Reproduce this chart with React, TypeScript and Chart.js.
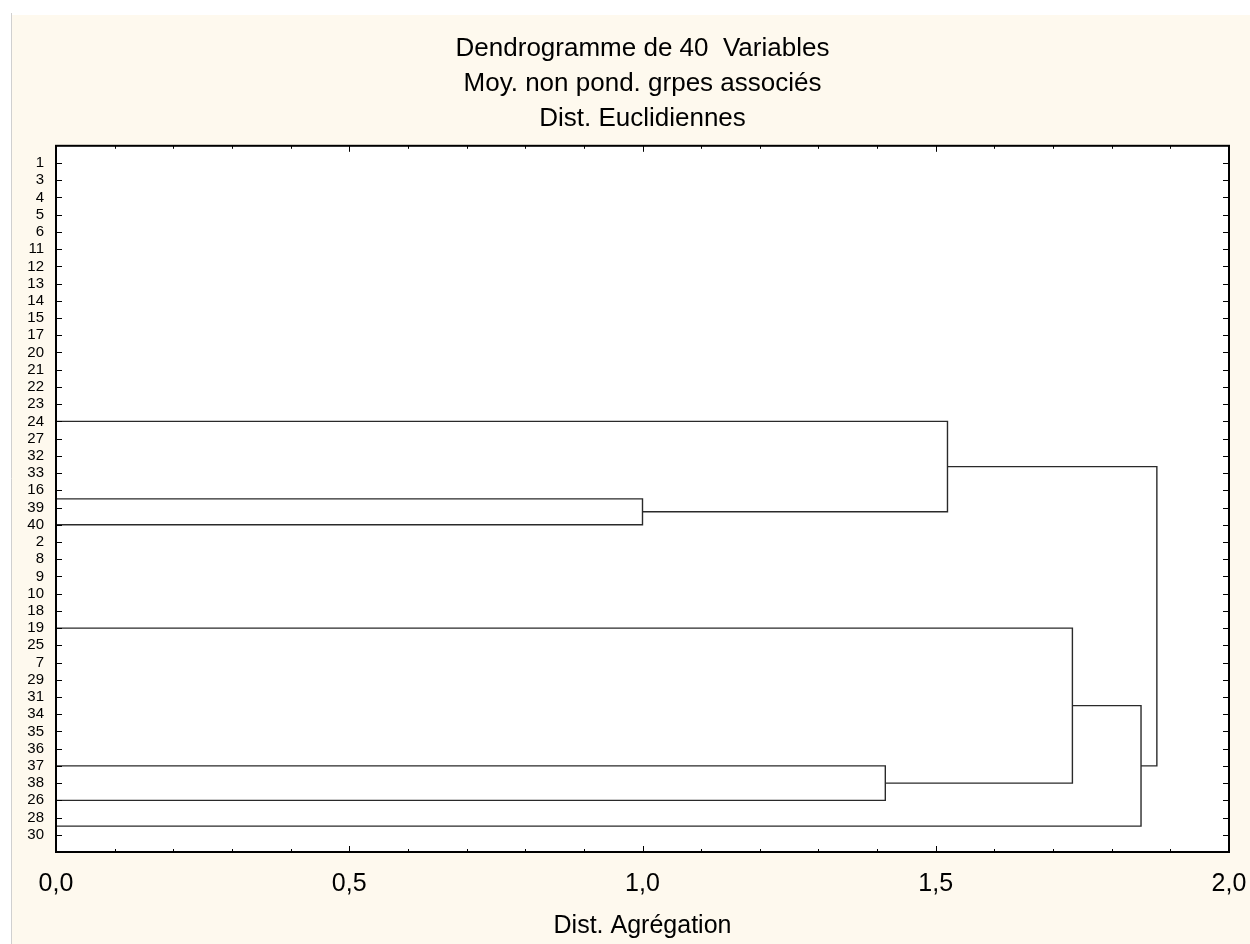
import React, { useEffect, useRef } from 'react';
import { Chart, registerables } from 'chart.js';

Chart.register(...registerables);

const FONT = "Arial, 'Liberation Sans', sans-serif";
const CREAM = '#FEF9EE';

const titleLines = ['Dendrogramme de 40  Variables', 'Moy. non pond. grpes associés', 'Dist. Euclidiennes'];
const xAxisTitle = 'Dist. Agrégation';

// leaf order, top to bottom
const variables = [
  '1', '3', '4', '5', '6', '11', '12', '13', '14', '15',
  '17', '20', '21', '22', '23', '24', '27', '32', '33', '16',
  '39', '40', '2', '8', '9', '10', '18', '19', '25', '7',
  '29', '31', '34', '35', '36', '37', '38', '26', '28', '30',
];

const xTickValues = [0, 0.5, 1.0, 1.5, 2.0];
const xTickLabels = ['0,0', '0,5', '1,0', '1,5', '2,0'];
const xMinorStep = 0.1;

// groups already fused at distance 0 (first and last member of each group)
const groupFirst = ['24', '16', '40', '19', '37', '26', '28'];
const groupLast = ['24', '39', '40', '19', '37', '26', '30'];

// successive fusions: node ids (0-6 = groups, 7+ = fusions in order)
const fuseLeft = [1, 0, 4, 3, 10, 8];
const fuseRight = [2, 7, 5, 9, 6, 11];
const fuseDist = [1.0, 1.52, 1.414, 1.733, 1.85, 1.877];

function buildSegments() {
  const rowOf = (v: string) => variables.indexOf(v) + 1;
  const nodeY = groupFirst.map((f, i) => (rowOf(f) + rowOf(groupLast[i])) / 2);
  const nodeH = groupFirst.map(() => 0);
  const segs: { x: number; y: number }[][] = [];
  fuseLeft.forEach((l, i) => {
    const r = fuseRight[i];
    const d = fuseDist[i];
    segs.push([
      { x: nodeH[l], y: nodeY[l] },
      { x: d, y: nodeY[l] },
      { x: d, y: nodeY[r] },
      { x: nodeH[r], y: nodeY[r] },
    ]);
    nodeY.push((nodeY[l] + nodeY[r]) / 2);
    nodeH.push(d);
  });
  return segs;
}

const framePlugin = {
  id: 'dendroFrame',
  beforeDraw(chart: any) {
    const { ctx, width, height, chartArea: a } = chart;
    ctx.save();
    ctx.fillStyle = '#ffffff';
    ctx.fillRect(0, 0, width, height);
    ctx.fillStyle = CREAM;
    ctx.fillRect(12, 15, width - 12, height - 15);
    ctx.strokeStyle = '#d0d0d0';
    ctx.lineWidth = 1;
    ctx.beginPath();
    ctx.moveTo(11.5, 13);
    ctx.lineTo(11.5, height);
    ctx.stroke();
    ctx.fillStyle = '#ffffff';
    ctx.fillRect(a.left, a.top, a.right - a.left, a.bottom - a.top);
    ctx.restore();
  },
  afterDatasetsDraw(chart: any) {
    const { ctx, chartArea: a } = chart;
    const xs = chart.scales.x;
    const ys = chart.scales.y;
    ctx.save();
    ctx.strokeStyle = '#000';
    ctx.lineWidth = 1;
    ctx.beginPath();
    for (let i = 1; i <= variables.length; i++) {
      const py = Math.round(ys.getPixelForValue(i)) + 0.5;
      ctx.moveTo(a.left, py);
      ctx.lineTo(a.left + 6, py);
      ctx.moveTo(a.right - 6, py);
      ctx.lineTo(a.right, py);
    }
    const nMinor = Math.round((xs.max - xs.min) / xMinorStep);
    for (let k = 0; k <= nMinor; k++) {
      const v = xs.min + k * xMinorStep;
      const px = Math.round(xs.getPixelForValue(v)) + 0.5;
      const major = xTickValues.some((t) => Math.abs(t - v) < 1e-6);
      const len = major ? 6 : 3;
      ctx.moveTo(px, a.bottom);
      ctx.lineTo(px, a.bottom - len);
      ctx.moveTo(px, a.top);
      ctx.lineTo(px, a.top + len);
    }
    ctx.stroke();
    ctx.lineWidth = 2;
    ctx.strokeRect(a.left, a.top, a.right - a.left, a.bottom - a.top);
    ctx.restore();
  },
};

export default function App() {
  const ref = useRef<HTMLCanvasElement>(null);
  useEffect(() => {
    if (!ref.current) return;
    const segs = buildSegments();
    const chart = new Chart(ref.current, {
      type: 'scatter',
      data: {
        datasets: segs.map((s) => ({
          data: s,
          showLine: true,
          pointRadius: 0,
          borderColor: '#2a2a2a',
          borderWidth: 1.4,
          fill: false,
          tension: 0,
        })),
      },
      options: {
        responsive: false,
        animation: false,
        events: [],
        layout: { padding: { left: 0, right: 21, top: 0, bottom: 3 } },
        plugins: {
          legend: { display: false },
          tooltip: { enabled: false },
          title: {
            display: true,
            fullSize: false,
            text: titleLines,
            color: '#000',
            font: { family: FONT, size: 26, weight: 'normal', lineHeight: 1.35 },
            padding: { top: 31, bottom: 9.5 },
          },
        },
        scales: {
          x: {
            type: 'linear',
            min: 0,
            max: 2,
            afterBuildTicks: (s: any) => {
              s.ticks = xTickValues.map((v) => ({ value: v }));
            },
            afterFit: (s: any) => {
              s.height = 89;
              s.paddingLeft = 0;
              s.paddingRight = 0;
            },
            ticks: {
              callback: (_v: any, i: number) => xTickLabels[i],
              autoSkip: false,
              maxRotation: 0,
              padding: 17,
              color: '#000',
              font: { family: FONT, size: 25 },
            },
            grid: { display: false, drawTicks: false },
            border: { display: false },
            title: {
              display: true,
              text: xAxisTitle,
              color: '#000',
              font: { family: FONT, size: 25 },
              padding: { top: 4, bottom: 0 },
            },
          },
          y: {
            type: 'linear',
            min: 0,
            max: 41,
            reverse: true,
            afterBuildTicks: (s: any) => {
              s.ticks = variables.map((_, i) => ({ value: i + 1 }));
            },
            afterFit: (s: any) => {
              s.width = 56;
            },
            ticks: {
              callback: (_v: any, i: number) => variables[i],
              autoSkip: false,
              padding: 12,
              color: '#000',
              font: { family: FONT, size: 15 },
            },
            grid: { display: false, drawTicks: false },
            border: { display: false },
          },
        },
      },
      plugins: [framePlugin],
    } as any);
    return () => chart.destroy();
  }, []);
  return (
    <div style={{ position: 'absolute', left: 0, top: 0, width: 1250, height: 944 }}>
      <canvas ref={ref} width={1250} height={944} style={{ display: 'block' }} />
    </div>
  );
}
